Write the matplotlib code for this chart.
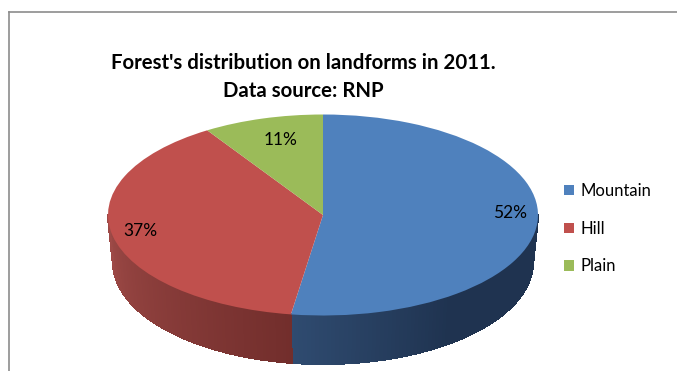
# -*- coding: utf-8 -*-
import numpy as np
import matplotlib
matplotlib.use('Agg')
import matplotlib.pyplot as plt
from matplotlib.colors import to_rgb
from matplotlib.lines import Line2D

categories = ['Mountain', 'Hill', 'Plain']
shares = [52, 37, 11]
top_colors = ['#4F81BD', '#C0504D', '#9BBB59']
wall_light = ['#2F4B70', '#9E4A47']
wall_dark = ['#1F3350', '#722E2C']

W, H = 677, 371
cx, cy = 323, 215
rx, ry = 215, 100.5
# bottom rim of the pie, a bit narrower because of the perspective
bot_cy, bot_rx, bot_ry = 262, 210, 102

plt.rcParams['font.family'] = ['Lato', 'DejaVu Sans']

fig = plt.figure(figsize=(W / 100, H / 100), dpi=100, facecolor='white')
ax = fig.add_axes([0, 0, 1, 1])


def warp(deg):
    # slices on the left look squeezed in the 3d view
    t = np.radians(90 - deg)
    return deg + 11 * np.sin(t)


wedges, _ = ax.pie(shares, colors=top_colors, startangle=90, counterclock=False,
                   radius=1, wedgeprops={'linewidth': 0, 'zorder': 3})
for w in wedges:
    w.set_theta1(warp(w.theta1))
    w.set_theta2(warp(w.theta2))
ax.set_aspect('auto')
ax.set_xlim(-cx / rx, (W - cx) / rx)
ax.set_ylim((cy - H) / ry, cy / ry)
ax.axis('off')


def px(x, y):
    return (x - cx) / rx, (cy - y) / ry


# side wall, split in thin strips for the shading
split = warp(90 - 360 * shares[0] / sum(shares))  # blue/red edge on the front
blue_angles = np.linspace(split, 0, 90)
red_angles = np.linspace(split, -180, 90)
for k, angles in enumerate([blue_angles, red_angles]):
    for i in range(len(angles) - 1):
        a = np.radians(angles[i:i + 2])
        xt, yt = px(cx + rx * np.cos(a), cy - ry * np.sin(a))
        xb, yb = px(cx + bot_rx * np.cos(a), bot_cy - bot_ry * np.sin(a))
        f = i / (len(angles) - 2)
        if k == 0:
            f = min(1, f * 2.2)
            c = (1 - f) * np.array(to_rgb(wall_light[0])) + f * np.array(to_rgb(wall_dark[0]))
        else:
            c = (1 - f) * np.array(to_rgb(wall_dark[1])) + f * np.array(to_rgb(wall_light[1]))
        ax.fill(np.r_[xt, xb[::-1]], np.r_[yt, yb[::-1]], color=c, lw=0.8,
                antialiased=False, zorder=2)

# percentage labels
label_pos = [(510, 213), (140, 231), (281, 140)]
for s, (x, y) in zip(shares, label_pos):
    lx, ly = px(x, y)
    ax.text(lx, ly, '%d%%' % s, ha='center', va='center', fontsize=12.5, color='black', zorder=5)

tx, ty = px(303, 63)
ax.text(tx, ty, "Forest's distribution on landforms in 2011.", ha='center', va='center',
        fontsize=14.7, fontweight='bold', color='black')
tx, ty = px(303, 91)
ax.text(tx, ty, 'Data source: RNP', ha='center', va='center',
        fontsize=14.7, fontweight='bold', color='black')

ax.legend(wedges, categories, loc='upper left', bbox_to_anchor=(564 / W, 1 - 183 / H),
          bbox_transform=fig.transFigure, frameon=False, fontsize=12,
          handlelength=0.6, handleheight=0.6, handletextpad=0.36, labelspacing=1.3,
          borderpad=0, borderaxespad=0)

# chart frame, cut off at right and bottom
frame = dict(color='#8C8C8C', lw=1.2, transform=fig.transFigure)
fig.add_artist(Line2D([9 / W, 1], [1 - 12 / H, 1 - 12 / H], **frame))
fig.add_artist(Line2D([9 / W, 9 / W], [1 - 12 / H, 0], **frame))

fig.savefig('out.png', dpi=100)
plt.close()
